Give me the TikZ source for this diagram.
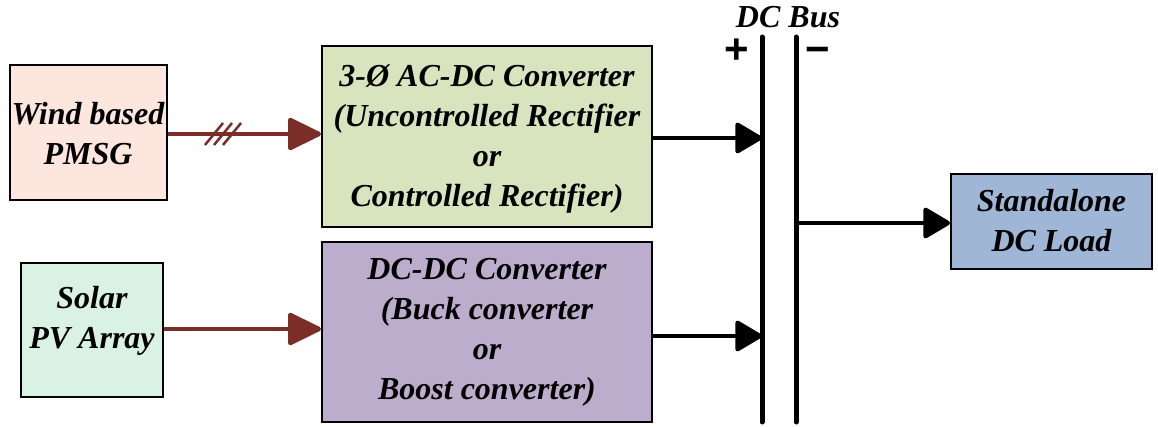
\documentclass[tikz,border=0pt]{standalone}
\usepackage{fontspec}
\setmainfont{Liberation Serif}
\newfontfamily\signfont{Liberation Sans}
\usetikzlibrary{arrows.meta}

\definecolor{windfill}{HTML}{FDE6DE}
\definecolor{acdcfill}{HTML}{D8E4BD}
\definecolor{solarfill}{HTML}{D9F2E4}
\definecolor{dcdcfill}{HTML}{BCADCC}
\definecolor{loadfill}{HTML}{A0B6D6}
\definecolor{feed}{HTML}{7A2E27}

\tikzset{
  blockbox/.style={draw=black, line width=2pt, inner sep=0pt},
  blocktext/.style={align=center, inner sep=0pt,
    font=\fontsize{32}{40}\selectfont\bfseries\itshape},
  signtext/.style={inner sep=0pt, text height=10pt, text depth=0pt,
    font=\signfont\fontsize{42}{42}\selectfont\bfseries},
  feedarrow/.style={draw=feed, line width=4.5pt,
    -{Triangle[length=36pt,width=34pt,round]}},
  busarrow/.style={draw=black, line width=4.5pt,
    -{Triangle[length=29pt,width=33pt,round]}},
  busline/.style={draw=black, line width=5pt, line cap=round},
  hashmark/.style={draw=feed, line width=2.5pt},
}

\begin{document}
\begin{tikzpicture}[x=1pt, y=-1pt]
\useasboundingbox (0,0) rectangle (1158,427);

% source and converter blocks
\node[blockbox, fill=windfill, minimum width=157pt, minimum height=135pt] (wind) at (88,132.5) {};
\node[blocktext] (windtxt) at (88,134) {Wind based\\PMSG};

\node[blockbox, fill=acdcfill, minimum width=330pt, minimum height=181pt] (acdc) at (487,136.5) {};
\node[blocktext] (acdctxt) at (487,139) {3-Ø AC-DC Converter\\(Uncontrolled Rectifier\\or\\Controlled Rectifier)};

\node[blockbox, fill=solarfill, minimum width=142pt, minimum height=134pt] (solar) at (92,330) {};
\node[blocktext] (solartxt) at (92,321) {Solar\\PV Array};

\node[blockbox, fill=dcdcfill, minimum width=330pt, minimum height=180pt] (dcdc) at (487,332) {};
\node[blocktext] (dcdctxt) at (487,332) {DC-DC Converter\\(Buck converter\\or\\Boost converter)};

\node[blockbox, fill=loadfill, minimum width=201pt, minimum height=95pt] (load) at (1051.5,222) {};
\node[blocktext] (loadtxt) at (1051.5,221) {Standalone\\DC Load};

% DC bus rails
\coordinate (ptop) at (762,37);
\coordinate (pbot) at (762,422);
\coordinate (ntop) at (796,37);
\coordinate (nbot) at (796,422);
\draw[busline] (ptop) -- (pbot);
\draw[busline] (ntop) -- (nbot);
\node[blocktext] (bustxt) at (788,17) {DC Bus};
\node[signtext, anchor=center] (plus) at (737,59) {+};
\node[signtext, anchor=center] (minus) at (818,59) {−};

% feeds into the converters
\draw[feedarrow] (wind.east |- 0,134) -- (acdc.west |- 0,134);
\foreach \hx/\hn in {214/ha,223/hb,232/hc} {
  \coordinate (\hn1) at (\hx-9,145);
  \coordinate (\hn2) at (\hx+9,123);
  \draw[hashmark] (\hn1) -- (\hn2);
}
\draw[feedarrow] (solar.east |- 0,329) -- (dcdc.west |- 0,329);

% converters onto the bus, bus to the load
\draw[busarrow] (acdc.east |- 0,138) -- (ptop |- 0,138);
\draw[busarrow] (dcdc.east |- 0,336) -- (ptop |- 0,336);
\draw[busarrow] (ntop |- 0,223) -- (load.west |- 0,223);
\end{tikzpicture}
\end{document}
